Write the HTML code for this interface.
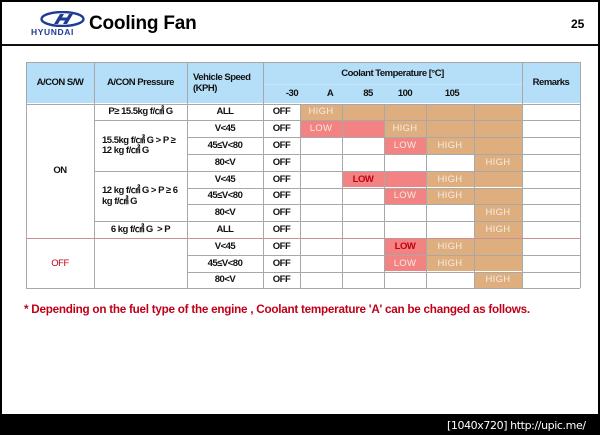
<!DOCTYPE html>
<html><head><meta charset="utf-8"><style>
*{margin:0;padding:0;box-sizing:border-box}
html,body{width:600px;height:435px;overflow:hidden}
body{background:#000;position:relative;font-family:"Liberation Sans",Arial,sans-serif}
#slide{position:absolute;left:2px;top:2px;width:596px;height:412px;background:#fff}
.a{position:absolute;white-space:nowrap}
.c{position:absolute;display:flex;align-items:center;justify-content:center;font-size:9.5px;font-weight:bold;letter-spacing:-0.5px;color:#111;text-align:center;line-height:1.15;white-space:nowrap;padding-top:2px}
.hl{position:absolute;height:1px;background:#a8a8a8}
.vl{position:absolute;width:1px;background:#a8a8a8}
.t{background:#dfae7e}.p{background:#f38282}
.w{color:#f4ece4;font-weight:normal;letter-spacing:0.3px}
.r{color:#c00010}
</style></head><body>
<div id="slide"></div>
<svg class="a" style="left:40px;top:11px" width="45" height="16" viewBox="0 0 45 16">
<ellipse cx="22.5" cy="8" rx="21" ry="7" fill="none" stroke="#1e3c96" stroke-width="2.4"/>
<path d="M14 13 L20 3 L24 3 L22 6.5 L27 6.5 L29 3 L33 3 L27 13 L23 13 L25 9.5 L20 9.5 L18 13Z" fill="#1e3c96"/>
</svg>
<div class="a" style="left:31px;top:27px;font-size:8.5px;font-weight:bold;color:#1e3c96;letter-spacing:0.6px">HYUNDAI</div>
<div class="a" style="left:89px;top:13px;font-size:19px;font-weight:bold;color:#000;letter-spacing:-0.2px">Cooling Fan</div>
<div class="a" style="left:571px;top:17px;font-size:12px;font-weight:bold;color:#000">25</div>
<div class="a" style="left:2px;top:44px;width:596px;height:2px;background:#111"></div>

<div class="a" style="left:26px;top:62px;width:554px;height:41px;background:#b5dff8"></div>
<div class="c" style="left:26px;top:62px;width:68px;height:41px">A/CON S/W</div>
<div class="c" style="left:94px;top:62px;width:93px;height:41px">A/CON Pressure</div>
<div class="c" style="left:187px;top:62px;width:76px;height:41px;justify-content:flex-start;text-align:left;padding-left:6px">Vehicle Speed<br>(KPH)</div>
<div class="c" style="left:263px;top:62px;width:259px;height:22px">Coolant Temperature [°C]</div>
<div class="c" style="left:522px;top:62px;width:58px;height:41px">Remarks</div>
<div class="c" style="left:280px;top:84px;width:24px;height:19px">-30</div>
<div class="c" style="left:320px;top:84px;width:20px;height:19px">A</div>
<div class="c" style="left:358px;top:84px;width:20px;height:19px">85</div>
<div class="c" style="left:393px;top:84px;width:24px;height:19px">100</div>
<div class="c" style="left:440px;top:84px;width:24px;height:19px">105</div>
<div id="body"></div>
<div class="a" style="left:24px;top:303px;font-size:11.7px;font-weight:bold;color:#c00018;letter-spacing:-0.25px">* Depending on the fuel type of the engine , Coolant temperature 'A' can be changed as follows.</div>
<div class="a" style="left:447px;top:419px;font-size:11px;color:#fff;font-family:'DejaVu Sans',sans-serif;letter-spacing:-0.4px">[1040x720] http://upic.me/</div>
<script>
var X=[300,342,384,426,474,522],T=103.5,H=16.8;
var rows=[
['ALL','tttttt','H0'],['V<45','pptttt','L0H2'],['45≤V<80','--pttt','L2H3'],['80<V','----t','H4'],
['V<45','-pptt','R1H3'],['45≤V<80','--ptt','L2H3'],['80<V','----t','H4'],['ALL','----t','H4'],
['V<45','--ptt','R2H3'],['45≤V<80','--ptt','L2H3'],['80<V','----t','H4']];
var s='';
rows.forEach(function(r,i){var y=T+i*H;
 s+='<div class="c" style="left:187px;top:'+y+'px;width:76px;height:'+H+'px">'+r[0].replace('<','&lt;')+'</div>';
 s+='<div class="c" style="left:263px;top:'+y+'px;width:37px;height:'+H+'px">OFF</div>';
 for(var k=0;k<5;k++){var f=r[1][k];if(f=='t'||f=='p')s+='<div class="a '+f+'" style="left:'+X[k]+'px;top:'+y+'px;width:'+(X[k+1]-X[k])+'px;height:'+H+'px"></div>';}
 var m=r[2];for(var j=0;j<m.length;j+=2){var k=+m[j+1],ty=m[j];
  var txt=ty=='H'?'HIGH':'LOW',cl=ty=='R'?'r':'w';
  s+='<div class="c '+cl+'" style="left:'+X[k]+'px;top:'+y+'px;width:'+(X[k+1]-X[k])+'px;height:'+H+'px">'+txt+'</div>';}
});
var B=T+11*H;
s+='<div class="c" style="left:26px;top:'+T+'px;width:68px;height:'+(8*H)+'px">ON</div>';
s+='<div class="c r" style="left:26px;top:'+(T+8*H)+'px;width:68px;height:'+(3*H)+'px;font-weight:normal">OFF</div>';
s+='<div class="c" style="left:94px;top:'+T+'px;width:93px;height:'+H+'px">P≥ 15.5kg f/㎠ G</div>';
s+='<div class="c" style="left:94px;top:'+(T+H)+'px;width:93px;height:'+(3*H)+'px;justify-content:flex-start;text-align:left;padding-left:8px">15.5kg f/㎠ G &gt; P ≥<br>12 kg f/㎠ G</div>';
s+='<div class="c" style="left:94px;top:'+(T+4*H)+'px;width:93px;height:'+(3*H)+'px;justify-content:flex-start;text-align:left;padding-left:8px">12 kg f/㎠ G &gt; P ≥ 6<br>kg f/㎠ G</div>';
s+='<div class="c" style="left:94px;top:'+(T+7*H)+'px;width:93px;height:'+H+'px">6 kg f/㎠ G &nbsp;&gt; P</div>';
s+='<div class="hl" style="left:26px;top:62px;width:554px"></div>';
s+='<div class="hl" style="left:263px;top:84px;width:259px;background:#c8e8fa"></div>';
s+='<div class="hl" style="left:26px;top:'+T+'px;width:554px"></div>';
for(var i=1;i<11;i++){var y=T+i*H;
 var l=(i==8)?26:((i==1||i==4||i==7)?94:187);
 s+='<div class="hl" style="left:'+l+'px;top:'+y+'px;width:'+(580-l)+'px'+(i==8?';background:#c89090':'')+'"></div>';}
s+='<div class="hl" style="left:26px;top:'+B+'px;width:554px"></div>';
[26,94,187,263,522,580].forEach(function(x){s+='<div class="vl" style="left:'+x+'px;top:62px;height:'+(B-62)+'px"></div>';});
[300,342,384,426,474].forEach(function(x){s+='<div class="vl" style="left:'+x+'px;top:'+T+'px;height:'+(B-T)+'px"></div>';});
document.getElementById('body').innerHTML=s;
</script>
</body></html>
